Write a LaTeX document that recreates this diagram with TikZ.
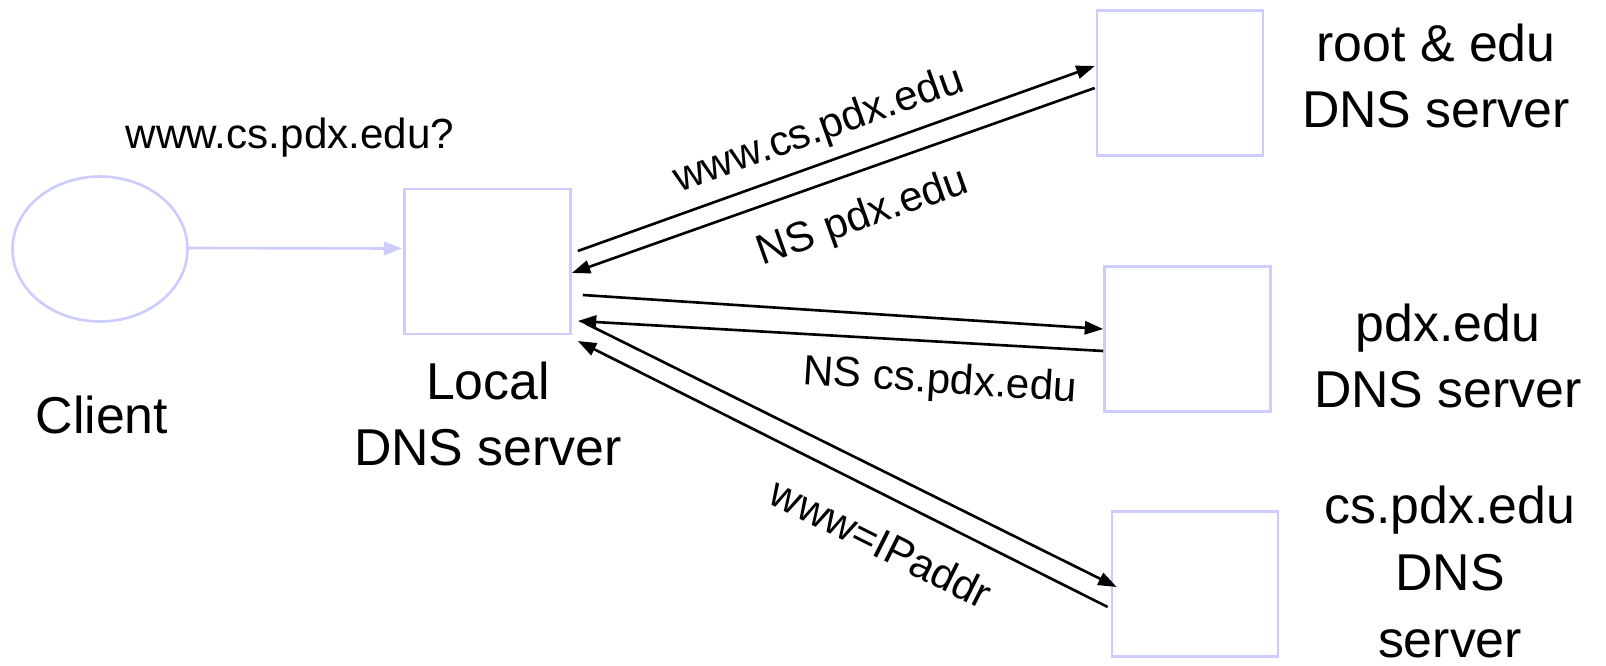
\documentclass[tikz,border=0pt]{standalone}
\usepackage{fontspec}
\setmainfont{Liberation Sans}
\usetikzlibrary{
  arrows.meta,      % Triangle arrow tips
  calc,             % offsets from node anchors
  positioning,      % relative placement
  shapes.geometric  % client ellipse
}
\definecolor{boxblue}{RGB}{204,204,255}

\begin{document}
\begin{tikzpicture}[>={Triangle[length=10.5pt,width=7.5pt]}, x=0.02cm, y=-0.02cm]
  \tikzset{
    server/.style={draw=boxblue, line width=1.5pt, inner sep=0pt,
      minimum width=3.32cm, minimum height=2.9cm},
    msg/.style={->, line width=1.5pt, black},
    biglabel/.style={align=center, font=\fontsize{29.5}{38}\selectfont},
    smalllabel/.style={font=\fontsize{24}{28}\selectfont}
  }
  \useasboundingbox (0,0) rectangle (1606,666);

  % client and the local resolver
  \node[ellipse, draw=boxblue, line width=1.5pt, inner sep=0pt,
    minimum width=3.5cm, minimum height=2.9cm] (client) at (100,249) {};
  \node[server] (local) at (487.5,261.5) {};
  \draw[->, draw=boxblue, fill=boxblue, line width=1.5pt]
    ($(client.east)+(-3,-1)$) -- ($(local.west)+(-1,-13)$);

  % the three servers on the right
  \node[server] (root) at (1180,83) {};
  \node[server] (pdx)  at (1187.5,339) {};
  \node[server] (cs)   at (1195,584) {};

  % labels
  \node[smalllabel] (query) at (290,138) {www.cs.pdx.edu?};
  \node[biglabel] (clientlbl) at (102,415) {Client};
  \node[biglabel] (locallbl) at (488,414) {Local\\DNS server};
  \node[biglabel] (rootlbl) at (1436,76) {root \& edu\\DNS server};
  \node[biglabel] (pdxlbl) at (1448,356) {pdx.edu\\DNS server};
  \node[biglabel] (cslbl) at (1450,572) {cs.pdx.edu\\DNS\\server};

  % queries and referrals
  \draw[msg] ($(local.east)+(6,-10.5)$) -- ($(root.west)+(-1,-17)$);
  \draw[msg] ($(root.west)+(-1,5)$) -- ($(local.east)+(0,11.5)$);
  \draw[msg] ($(local.east)+(11,33.5)$) -- ($(pdx.west)+(0,-10)$);
  \draw[msg] ($(pdx.west)+(0,12)$) -- ($(local.east)+(6,59.5)$);
  \draw[msg] ($(local.east)+(14,62)$) -- ($(cs.west)+(6,3)$);
  \draw[msg] ($(cs.west)+(-3,23)$) -- ($(local.east)+(6,79.5)$);

  \node[smalllabel, rotate=19.6] (ask1) at (819,131) {www.cs.pdx.edu};
  \node[smalllabel, rotate=19.6] (ref1) at (863,218) {NS pdx.edu};
  \node[smalllabel, rotate=-3.7] (ref2) at (940,382) {NS cs.pdx.edu};
  \node[smalllabel, rotate=-26.6] (answer) at (881,543) {www=IPaddr};
\end{tikzpicture}
\end{document}
